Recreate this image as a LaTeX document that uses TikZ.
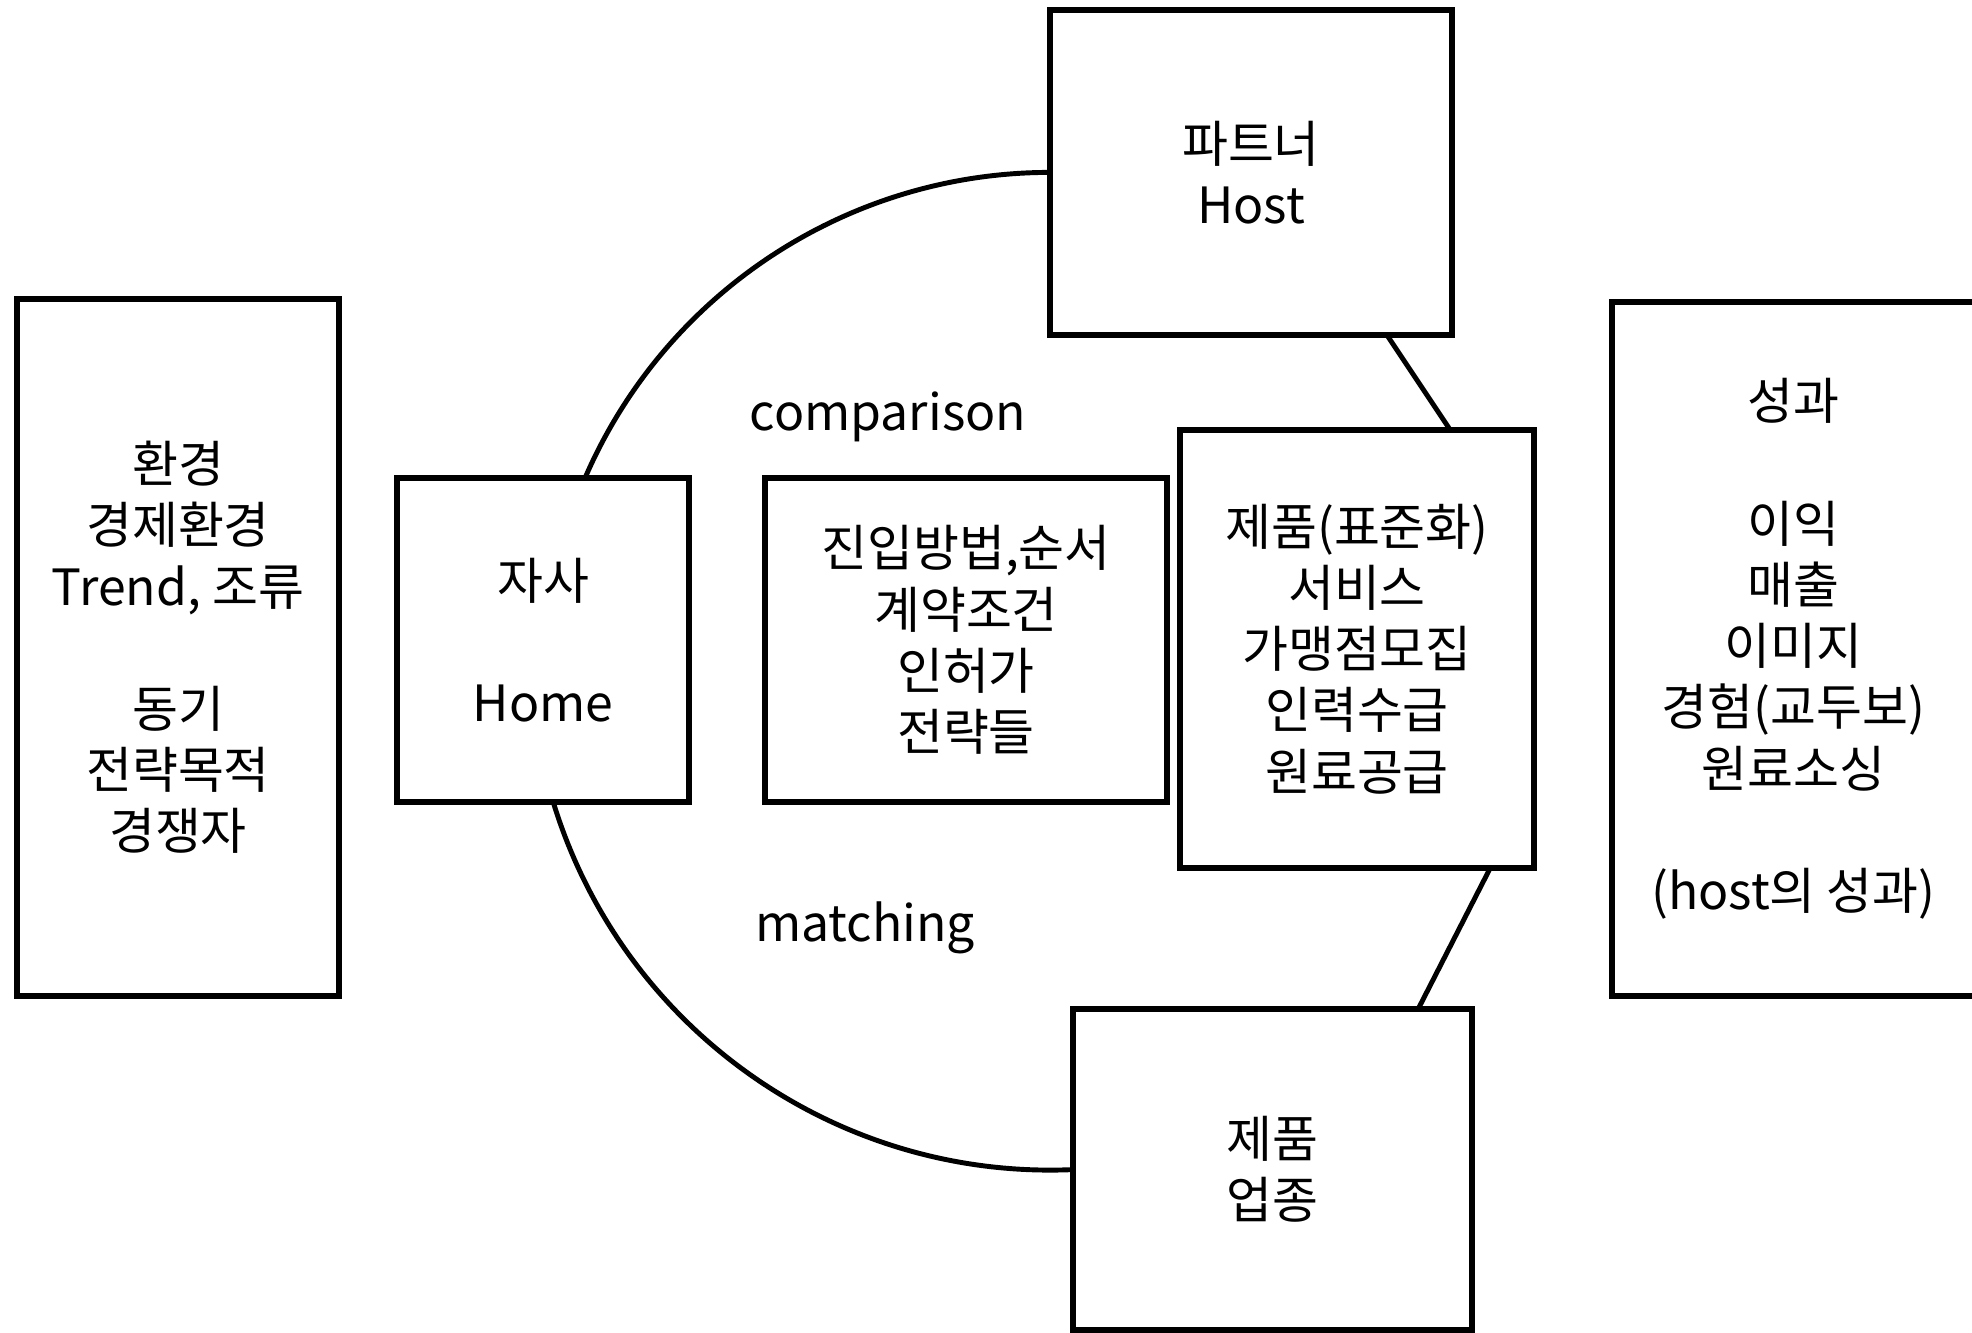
\documentclass[tikz,border=0pt]{standalone}
\usepackage{fontspec}
\setmainfont{Noto Sans CJK KR}
\usetikzlibrary{calc}
\begin{document}
\begin{tikzpicture}[x=0.01cm,y=0.01cm,
  box/.style={draw, line width=1.7pt, rectangle, align=center, inner sep=0pt, outer sep=0pt,
    font=\fontsize{14.2pt}{17.4pt}\selectfont},
  lbl/.style={font=\fontsize{14.2pt}{17.4pt}\selectfont, inner sep=0pt},
  link/.style={line width=1.4pt}]
\useasboundingbox (0,0) rectangle (1972,1333);
\clip (0,0) rectangle (1972,1333);
\fill[white] (0,0) rectangle (1972,1333);

\node[box, minimum width=3.22cm, minimum height=6.97cm] (env) at (178,685.5)
  {환경\\경제환경\\Trend, 조류\\~\\동기\\전략목적\\경쟁자};
\node[box, minimum width=2.92cm, minimum height=3.24cm] (home) at (543,693)
  {자사\\~\\Home};
\node[box, minimum width=4.02cm, minimum height=3.24cm] (mid) at (966,693)
  {진입방법,순서\\계약조건\\인허가\\전략들};
\node[box, minimum width=4.02cm, minimum height=3.25cm] (host) at (1251,1160.5)
  {파트너\\Host};
\node[box, minimum width=3.54cm, minimum height=4.38cm] (rmid) at (1357,684)
  {제품(표준화)\\서비스\\가맹점모집\\인력수급\\원료공급};
\node[box, minimum width=3.99cm, minimum height=3.21cm] (prod) at (1272.5,163.5)
  {제품\\업종};
\node[box, minimum width=3.63cm, minimum height=6.94cm] (perf) at (1793.5,684)
  {성과\\~\\이익\\매출\\이미지\\경험(교두보)\\원료소싱\\~\\(host의 성과)};

\node[lbl, anchor=base] (cmp) at (888,902) {comparison};
\node[lbl, anchor=base] (mat) at (865,391) {matching};

\draw[link] ($(home.north west)!0.644!(home.north east)$) coordinate (a1)
  arc[start angle=156.61, end angle=90, radius=506.6];
\draw[link] ($(home.south west)!0.535!(home.south east)$) coordinate (a2)
  arc[start angle=196.96, end angle=272.54, radius=519.6];
\draw[link] ($(host.south west)!0.838!(host.south east)$) -- ($(rmid.north west)!0.763!(rmid.north east)$);
\draw[link] ($(rmid.south west)!0.876!(rmid.south east)$) -- ($(prod.north west)!0.865!(prod.north east)$);
\end{tikzpicture}
\end{document}
